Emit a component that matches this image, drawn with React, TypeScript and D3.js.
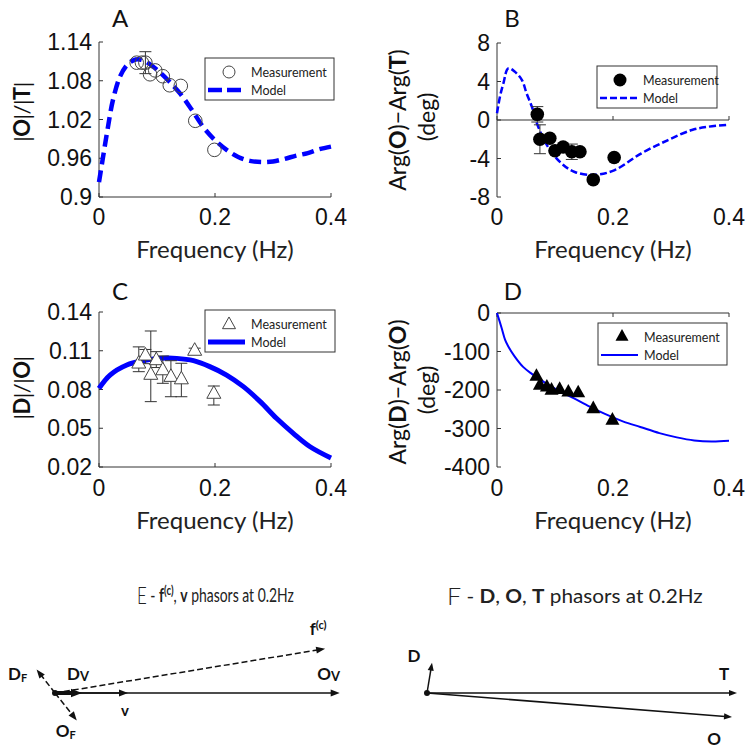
import React, { useLayoutEffect, useRef, useState } from "react";
import * as d3 from "d3";

// ---------- shared ----------
const freqTicks = [0, 0.2, 0.4];
const freqTickLabels = ["0", "0.2", "0.4"];

// ---------- Panel A : |O|/|T| ----------
const aTicks = [0.9, 0.96, 1.02, 1.08, 1.14];
const aTickLabels = ["0.9", "0.96", "1.02", "1.08", "1.14"];
const aModelF = [0, 0.007, 0.015, 0.024, 0.036, 0.048, 0.06, 0.07, 0.08, 0.1, 0.12, 0.14, 0.16, 0.18, 0.2, 0.22, 0.24, 0.26, 0.28, 0.3, 0.32, 0.34, 0.36, 0.38, 0.4];
const aModelV = [0.923, 0.962, 1.006, 1.05, 1.086, 1.104, 1.112, 1.113, 1.11, 1.097, 1.08, 1.06, 1.035, 1.008, 0.988, 0.973, 0.962, 0.956, 0.954, 0.955, 0.959, 0.964, 0.968, 0.974, 0.978];
const aMeasF = [0.065, 0.074, 0.08, 0.088, 0.097, 0.11, 0.122, 0.141, 0.166, 0.199];
const aMeasV = [1.108, 1.108, 1.108, 1.09, 1.096, 1.087, 1.073, 1.072, 1.018, 0.973];
const aMeasErr = [0, 0, 0.017, 0, 0, 0, 0, 0, 0, 0];

// ---------- Panel B : Arg(O)-Arg(T) ----------
const bTicks = [-8, -4, 0, 4, 8];
const bTickLabels = ["-8", "-4", "0", "4", "8"];
const bModelF = [0, 0.005, 0.011, 0.0195, 0.031, 0.043, 0.051, 0.06, 0.071, 0.088, 0.111, 0.134, 0.169, 0.203, 0.249, 0.295, 0.336, 0.364, 0.4];
const bModelV = [0.7, 2.4, 3.8, 5.37, 5.0, 4.15, 2.77, 1.4, -0.7, -2.8, -4.5, -5.4, -5.7, -5.2, -3.46, -2.08, -1.04, -0.7, -0.5];
const bMeasF = [0.0695, 0.074, 0.091, 0.1, 0.114, 0.129, 0.143, 0.166, 0.202];
const bMeasV = [0.59, -2.0, -1.9, -3.2, -2.8, -3.3, -3.3, -6.2, -3.9];
const bMeasErr = [0.8, 1.5, 0, 0, 0, 0.8, 0, 0, 0];

// ---------- Panel C : |D|/|O| ----------
const cTicks = [0.02, 0.05, 0.08, 0.11, 0.14];
const cTickLabels = ["0.02", "0.05", "0.08", "0.11", "0.14"];
const cModelF = [0, 0.019, 0.048, 0.076, 0.105, 0.134, 0.163, 0.191, 0.22, 0.249, 0.278, 0.306, 0.335, 0.364, 0.4];
const cModelV = [0.0809, 0.0912, 0.099, 0.1023, 0.1041, 0.1041, 0.1023, 0.0977, 0.0912, 0.0822, 0.0706, 0.0577, 0.0461, 0.0357, 0.027];
const cMeasF = [0.0686, 0.08, 0.0988, 0.0893, 0.11, 0.124, 0.142, 0.165, 0.198];
const cMeasV = [0.1005, 0.1067, 0.1031, 0.0918, 0.0953, 0.0902, 0.0883, 0.1104, 0.0771];
const cErrLo = [0.0938, 0.1, 0.097, 0.0706, 0.0848, 0.0744, 0.0744, 0.108, 0.068];
const cErrHi = [0.113, 0.111, 0.1093, 0.1253, 0.106, 0.1023, 0.1003, 0.112, 0.0827];

// ---------- Panel D : Arg(D)-Arg(O) ----------
const dTicks = [-400, -300, -200, -100, 0];
const dTickLabels = ["-400", "-300", "-200", "-100", "0"];
const dModelF = [0, 0.008, 0.014, 0.0195, 0.03, 0.045, 0.06, 0.088, 0.103, 0.132, 0.16, 0.189, 0.218, 0.247, 0.28, 0.31, 0.34, 0.37, 0.4];
const dModelV = [0, -39, -70, -87, -112, -140, -158, -186, -199, -221, -243, -264, -282, -296, -312, -323, -331, -334, -332];
const dMeasF = [0.068, 0.074, 0.086, 0.094, 0.108, 0.123, 0.14, 0.166, 0.199];
const dMeasV = [-163, -186, -191, -199, -197, -204, -206, -247, -277];

// ---------- Panel E : f(c), v phasors (magnitude, angle deg) ----------
const ePhasorNames = ["Ov", "v", "Dv", "fc", "DF", "OF"];
const ePhasorMag = [3.9, 1.0, 0.37, 3.75, 0.41, 0.48];
const ePhasorAng = [0, 0, 0, 9.3, 128, -51.5];
const ePhasorDashed = [false, false, false, true, true, true];

// ---------- Panel F : D, O, T phasors ----------
const fPhasorNames = ["T", "O", "D"];
const fPhasorMag = [1.0, 0.987, 0.099];
const fPhasorAng = [0, -4.5, 80.6];

const BLUE = "#0000ff";
const TICK_FONT = "'Liberation Sans', Arial, sans-serif";
const LABEL_FONT = "Lato, 'Open Sans', sans-serif";

function zip(a: number[], b: number[]): [number, number][] {
  return a.map((v, i) => [v, b[i]]);
}

type Lin = d3.ScaleLinear<number, number>;

function LeftAxis({ x, y, ticks, labels }: { x: Lin; y: Lin; ticks: number[]; labels: string[] }) {
  const x0 = x.range()[0];
  const [yb, yt] = y.range();
  return (
    <g>
      <line x1={x0} x2={x0} y1={yb} y2={yt} stroke="#333" strokeWidth={1} />
      {ticks.map((t, i) => (
        <g key={i}>
          <line x1={x0} x2={x0 + 4} y1={y(t)} y2={y(t)} stroke="#333" strokeWidth={1} />
          <text x={x0 - 7} y={y(t)} textAnchor="end" dominantBaseline="central" fontFamily={TICK_FONT} fontSize={23} fill="#111">
            {labels[i]}
          </text>
        </g>
      ))}
    </g>
  );
}

function HAxis({ x, yLine, tickDir, labelY }: { x: Lin; yLine: number; tickDir: number; labelY: number }) {
  const [x0, x1] = x.range();
  return (
    <g>
      <line x1={x0} x2={x1} y1={yLine} y2={yLine} stroke="#333" strokeWidth={1} />
      {freqTicks.map((t, i) => (
        <line key={"t" + i} x1={x(t)} x2={x(t)} y1={yLine} y2={yLine + tickDir * 4} stroke="#333" strokeWidth={1} />
      ))}
      {freqTicks.map((t, i) => (
        <text key={"l" + i} x={x(t)} y={labelY} textAnchor="middle" dominantBaseline="central" fontFamily={TICK_FONT} fontSize={23} fill="#111">
          {freqTickLabels[i]}
        </text>
      ))}
      <text x={(x0 + x1) / 2} y={labelY + 31} textAnchor="middle" dominantBaseline="central" fontFamily={LABEL_FONT} fontSize={24} fill="#222">
        Frequency (Hz)
      </text>
    </g>
  );
}

function Legend({ x0, y0, w, h, marker, lineStyle }: { x0: number; y0: number; w: number; h: number; marker: React.ReactNode; lineStyle: any }) {
  return (
    <g>
      <rect x={x0} y={y0} width={w} height={h} fill="#fff" stroke="#333" strokeWidth={1} />
      {marker}
      <text x={x0 + 46} y={y0 + 14} dominantBaseline="central" fontFamily={LABEL_FONT} fontSize={12.5} fill="#222">Measurement</text>
      <line x1={x0 + 3} x2={x0 + 40} y1={y0 + 32} y2={y0 + 32} {...lineStyle} />
      <text x={x0 + 46} y={y0 + 32} dominantBaseline="central" fontFamily={LABEL_FONT} fontSize={12.5} fill="#222">Model</text>
    </g>
  );
}

function triPath(cx: number, cy: number, s: number) {
  const h = s * 0.9;
  return `M${cx},${cy - h * 0.6} L${cx + s / 2},${cy + h * 0.4} L${cx - s / 2},${cy + h * 0.4} Z`;
}

function ErrBar({ x, lo, hi, cap = 6 }: { x: number; lo: number; hi: number; cap?: number }) {
  return (
    <g stroke="#333" strokeWidth={1}>
      <line x1={x} x2={x} y1={lo} y2={hi} />
      <line x1={x - cap} x2={x + cap} y1={lo} y2={lo} />
      <line x1={x - cap} x2={x + cap} y1={hi} y2={hi} />
    </g>
  );
}

function Phasor({ ox, oy, tip, dashed, width, head }: { ox: number; oy: number; tip: [number, number]; dashed?: boolean; width: number; head: number }) {
  const dx = tip[0] - ox;
  const dy = tip[1] - oy;
  const len = Math.hypot(dx, dy);
  const ux = dx / len, uy = dy / len;
  const bx = tip[0] - ux * head, by = tip[1] - uy * head;
  const px = -uy * head * 0.38, py = ux * head * 0.38;
  return (
    <g>
      <line x1={ox} y1={oy} x2={bx + ux * 1} y2={by + uy * 1} stroke="#111" strokeWidth={width} strokeDasharray={dashed ? "6,3" : undefined} />
      <path d={`M${tip[0]},${tip[1]} L${bx + px},${by + py} L${bx - px},${by - py} Z`} fill="#111" />
    </g>
  );
}

// A title squeezed horizontally to a target width (as in the reference)
function FitTitle({ x, y, width, children }: { x: number; y: number; width: number; children: React.ReactNode }) {
  const ref = useRef<SVGTextElement>(null);
  const [sx, setSx] = useState(1);
  useLayoutEffect(() => {
    if (ref.current) {
      const w = ref.current.getBBox().width;
      if (w > 0) setSx(width / w);
    }
  }, [width]);
  return (
    <g transform={`translate(${x},${y}) scale(${sx},1)`}>
      <text ref={ref} x={0} y={0} dominantBaseline="central" fontFamily={LABEL_FONT} fontSize={19} fill="#222">
        {children}
      </text>
    </g>
  );
}

export default function App() {
  // scales
  const xA = d3.scaleLinear().domain([0, 0.4]).range([99, 331]);
  const yA = d3.scaleLinear().domain([0.9, 1.14]).range([197, 42]);
  const xB = d3.scaleLinear().domain([0, 0.4]).range([497, 729]);
  const yB = d3.scaleLinear().domain([-8, 8]).range([197, 43]);
  const xC = d3.scaleLinear().domain([0, 0.4]).range([99, 331]);
  const yC = d3.scaleLinear().domain([0.02, 0.14]).range([467, 312]);
  const xD = d3.scaleLinear().domain([0, 0.4]).range([497, 729]);
  const yD = d3.scaleLinear().domain([-400, 0]).range([467, 313]);

  const lineA = d3.line<[number, number]>().x((d) => xA(d[0])).y((d) => yA(d[1])).curve(d3.curveCatmullRom);
  const lineB = d3.line<[number, number]>().x((d) => xB(d[0])).y((d) => yB(d[1])).curve(d3.curveCatmullRom);
  const lineC = d3.line<[number, number]>().x((d) => xC(d[0])).y((d) => yC(d[1])).curve(d3.curveCatmullRom);
  const lineD = d3.line<[number, number]>().x((d) => xD(d[0])).y((d) => yD(d[1])).curve(d3.curveCatmullRom);

  // phasor scales
  const eO = [55, 693];
  const eS = d3.scaleLinear().domain([0, 1]).range([0, 73]);
  const eTips = ePhasorMag.map((m, i) => {
    const a = (ePhasorAng[i] * Math.PI) / 180;
    return [eO[0] + eS(m) * Math.cos(a), eO[1] - eS(m) * Math.sin(a)] as [number, number];
  });
  const fO = [427, 693];
  const fS = d3.scaleLinear().domain([0, 1]).range([0, 310]);
  const fTips = fPhasorMag.map((m, i) => {
    const a = (fPhasorAng[i] * Math.PI) / 180;
    return [fO[0] + fS(m) * Math.cos(a), fO[1] - fS(m) * Math.sin(a)] as [number, number];
  });
  const eTip = (n: string) => eTips[ePhasorNames.indexOf(n)];
  const fTip = (n: string) => fTips[fPhasorNames.indexOf(n)];

  const boldLbl = { fontFamily: LABEL_FONT, fontWeight: 700, fill: "#111" } as const;

  return (
    <svg width={750} height={748} style={{ position: "absolute", left: 0, top: 0, background: "#fff" }}>
      <rect width={750} height={748} fill="#fff" />

      {/* ---------------- Panel A ---------------- */}
      <text x={120} y={17} textAnchor="middle" dominantBaseline="central" fontFamily={LABEL_FONT} fontSize={24} fill="#111">A</text>
      <LeftAxis x={xA} y={yA} ticks={aTicks} labels={aTickLabels} />
      <HAxis x={xA} yLine={197} tickDir={-1} labelY={217} />
      <text transform="translate(21,112) rotate(-90)" textAnchor="middle" dominantBaseline="central" fontFamily={LABEL_FONT} fontSize={22} letterSpacing={-0.5} fill="#111">
        |<tspan fontWeight={700}>O</tspan>|/|<tspan fontWeight={700}>T</tspan>|
      </text>
      <path d={lineA(zip(aModelF, aModelV)) || ""} fill="none" stroke={BLUE} strokeWidth={4.5} strokeDasharray="12,6" />
      {aMeasF.map((f, i) =>
        aMeasErr[i] > 0 ? <ErrBar key={"ae" + i} x={xA(f)} lo={yA(aMeasV[i] - aMeasErr[i])} hi={yA(aMeasV[i] + aMeasErr[i])} /> : null
      )}
      {aMeasF.map((f, i) => (
        <circle key={"a" + i} cx={xA(f)} cy={yA(aMeasV[i])} r={6.8} fill="none" stroke="#444" strokeWidth={1} />
      ))}
      <Legend x0={205} y0={58} w={129} h={42}
        marker={<circle cx={229} cy={72} r={6} fill="none" stroke="#444" strokeWidth={1} />}
        lineStyle={{ stroke: BLUE, strokeWidth: 4.5, strokeDasharray: "14,5" }} />

      {/* ---------------- Panel B ---------------- */}
      <text x={512} y={17} textAnchor="middle" dominantBaseline="central" fontFamily={LABEL_FONT} fontSize={24} fill="#111">B</text>
      <LeftAxis x={xB} y={yB} ticks={bTicks} labels={bTickLabels} />
      <line x1={xB(0)} x2={xB(0.4)} y1={yB(0)} y2={yB(0)} stroke="#333" strokeWidth={1} />
      {freqTicks.map((t, i) => (
        <line key={"bt" + i} x1={xB(t)} x2={xB(t)} y1={yB(0)} y2={yB(0) - 4} stroke="#333" strokeWidth={1} />
      ))}
      {freqTicks.map((t, i) => (
        <text key={"bl" + i} x={xB(t)} y={217} textAnchor="middle" dominantBaseline="central" fontFamily={TICK_FONT} fontSize={23} fill="#111">{freqTickLabels[i]}</text>
      ))}
      <text x={613} y={248} textAnchor="middle" dominantBaseline="central" fontFamily={LABEL_FONT} fontSize={24} fill="#222">Frequency (Hz)</text>
      <text transform="translate(397,120) rotate(-90)" textAnchor="middle" dominantBaseline="central" fontFamily={LABEL_FONT} fontSize={23} fill="#111">
        Arg(<tspan fontWeight={700}>O</tspan>)−Arg(<tspan fontWeight={700}>T</tspan>)
      </text>
      <text transform="translate(426,117) rotate(-90)" textAnchor="middle" dominantBaseline="central" fontFamily={LABEL_FONT} fontSize={23} fill="#111">(deg)</text>
      <path d={lineB(zip(bModelF, bModelV)) || ""} fill="none" stroke={BLUE} strokeWidth={2.5} strokeDasharray="7,3" />
      {bMeasF.map((f, i) =>
        bMeasErr[i] > 0 ? <ErrBar key={"be" + i} x={xB(f)} lo={yB(bMeasV[i] - bMeasErr[i])} hi={yB(bMeasV[i] + bMeasErr[i])} /> : null
      )}
      {bMeasF.map((f, i) => (
        <circle key={"b" + i} cx={xB(f)} cy={yB(bMeasV[i])} r={6.8} fill="#000" />
      ))}
      <Legend x0={597} y0={66} w={120} h={42}
        marker={<circle cx={620} cy={80} r={6.5} fill="#000" />}
        lineStyle={{ stroke: BLUE, strokeWidth: 2.5, strokeDasharray: "7,3" }} />

      {/* ---------------- Panel C ---------------- */}
      <text x={120} y={290} textAnchor="middle" dominantBaseline="central" fontFamily={LABEL_FONT} fontSize={24} fill="#111">C</text>
      <LeftAxis x={xC} y={yC} ticks={cTicks} labels={cTickLabels} />
      <HAxis x={xC} yLine={467} tickDir={-1} labelY={488} />
      <text transform="translate(21,388) rotate(-90)" textAnchor="middle" dominantBaseline="central" fontFamily={LABEL_FONT} fontSize={22} letterSpacing={-0.5} fill="#111">
        |<tspan fontWeight={700}>D</tspan>|/|<tspan fontWeight={700}>O</tspan>|
      </text>
      <path d={lineC(zip(cModelF, cModelV)) || ""} fill="none" stroke={BLUE} strokeWidth={5} />
      {cMeasF.map((f, i) => (
        <ErrBar key={"ce" + i} x={xC(f)} lo={yC(cErrLo[i])} hi={yC(cErrHi[i])} />
      ))}
      {cMeasF.map((f, i) => (
        <path key={"c" + i} d={triPath(xC(f), yC(cMeasV[i]), 14)} fill="#fff" stroke="#444" strokeWidth={1} />
      ))}
      <Legend x0={205} y0={310} w={130} h={42}
        marker={<path d={triPath(229, 324, 13)} fill="#fff" stroke="#444" strokeWidth={1} />}
        lineStyle={{ stroke: BLUE, strokeWidth: 5 }} />

      {/* ---------------- Panel D ---------------- */}
      <text x={513} y={290} textAnchor="middle" dominantBaseline="central" fontFamily={LABEL_FONT} fontSize={24} fill="#111">D</text>
      <LeftAxis x={xD} y={yD} ticks={dTicks} labels={dTickLabels} />
      <line x1={xD(0)} x2={xD(0.4)} y1={yD(0)} y2={yD(0)} stroke="#333" strokeWidth={1} />
      {freqTicks.map((t, i) => (
        <line key={"dt" + i} x1={xD(t)} x2={xD(t)} y1={yD(0)} y2={yD(0) + 4} stroke="#333" strokeWidth={1} />
      ))}
      {freqTicks.map((t, i) => (
        <text key={"dl" + i} x={xD(t)} y={488} textAnchor="middle" dominantBaseline="central" fontFamily={TICK_FONT} fontSize={23} fill="#111">{freqTickLabels[i]}</text>
      ))}
      <text x={613} y={519} textAnchor="middle" dominantBaseline="central" fontFamily={LABEL_FONT} fontSize={24} fill="#222">Frequency (Hz)</text>
      <text transform="translate(397,392) rotate(-90)" textAnchor="middle" dominantBaseline="central" fontFamily={LABEL_FONT} fontSize={23} fill="#111">
        Arg(<tspan fontWeight={700}>D</tspan>)−Arg(<tspan fontWeight={700}>O</tspan>)
      </text>
      <text transform="translate(426,390) rotate(-90)" textAnchor="middle" dominantBaseline="central" fontFamily={LABEL_FONT} fontSize={23} fill="#111">(deg)</text>
      <path d={lineD(zip(dModelF, dModelV)) || ""} fill="none" stroke={BLUE} strokeWidth={2} />
      {dMeasF.map((f, i) => (
        <path key={"d" + i} d={triPath(xD(f), yD(dMeasV[i]), 14)} fill="#000" />
      ))}
      <Legend x0={598} y0={323} w={129} h={42}
        marker={<path d={triPath(622, 336, 13)} fill="#000" />}
        lineStyle={{ stroke: BLUE, strokeWidth: 2 }} />

      {/* ---------------- Panel E ---------------- */}
      <FitTitle x={137} y={595} width={157}>
        <tspan fontSize={23} fontWeight={300}>E</tspan> - <tspan fontWeight={700}>f</tspan><tspan fontWeight={700} fontSize={13} dy={-6}>(c)</tspan><tspan dy={6}>, </tspan><tspan fontWeight={700}>v</tspan> phasors at 0.2Hz
      </FitTitle>
      {ePhasorNames.map((n, i) => (
        <Phasor key={"ep" + i} ox={eO[0]} oy={eO[1]} tip={eTips[i]} dashed={ePhasorDashed[i]} width={n === "Dv" ? 4 : 1.5} head={n === "Dv" ? 11 : 9} />
      ))}
      <circle cx={eO[0]} cy={eO[1]} r={3} fill="#111" />
      <text x={eTip("DF")[0] - 19} y={eTip("DF")[1] + 4} textAnchor="middle" dominantBaseline="central" fontSize={17} {...boldLbl}>D<tspan fontSize={11} dy={4}>F</tspan></text>
      <text x={eTip("Dv")[0] - 4} y={eTip("Dv")[1] - 20} textAnchor="middle" dominantBaseline="central" fontSize={17} {...boldLbl}>D<tspan fontSize={13} dy={3}>V</tspan></text>
      <text x={eTip("fc")[0] - 7} y={eTip("fc")[1] - 20} textAnchor="middle" dominantBaseline="central" fontSize={17} {...boldLbl}>f<tspan fontSize={11} dy={-5}>(c)</tspan></text>
      <text x={eTip("Ov")[0] - 11} y={eTip("Ov")[1] - 20} textAnchor="middle" dominantBaseline="central" fontSize={17} {...boldLbl}>O<tspan fontSize={13} dy={3}>V</tspan></text>
      <text x={eTip("v")[0] - 3} y={eTip("v")[1] + 17} textAnchor="middle" dominantBaseline="central" fontSize={15} {...boldLbl}>v</text>
      <text x={eTip("OF")[0] - 11} y={eTip("OF")[1] + 10} textAnchor="middle" dominantBaseline="central" fontSize={17} {...boldLbl}>O<tspan fontSize={11} dy={4}>F</tspan></text>

      {/* ---------------- Panel F ---------------- */}
      <FitTitle x={447} y={595} width={256}>
        <tspan fontSize={23} fontWeight={300}>F</tspan> - <tspan fontWeight={700}>D</tspan>, <tspan fontWeight={700}>O</tspan>, <tspan fontWeight={700}>T</tspan> phasors at 0.2Hz
      </FitTitle>
      {fPhasorNames.map((n, i) => (
        <Phasor key={"fp" + i} ox={fO[0]} oy={fO[1]} tip={fTips[i]} width={1.5} head={8} />
      ))}
      <circle cx={fO[0]} cy={fO[1]} r={3} fill="#111" />
      <text x={fTip("T")[0] - 13} y={fTip("T")[1] - 20} textAnchor="middle" dominantBaseline="central" fontSize={17} {...boldLbl}>T</text>
      <text x={fTip("O")[0] - 18} y={fTip("O")[1] + 21} textAnchor="middle" dominantBaseline="central" fontSize={17} {...boldLbl}>O</text>
      <text x={fTip("D")[0] - 18} y={fTip("D")[1] - 7} textAnchor="middle" dominantBaseline="central" fontSize={17} {...boldLbl}>D</text>
    </svg>
  );
}
